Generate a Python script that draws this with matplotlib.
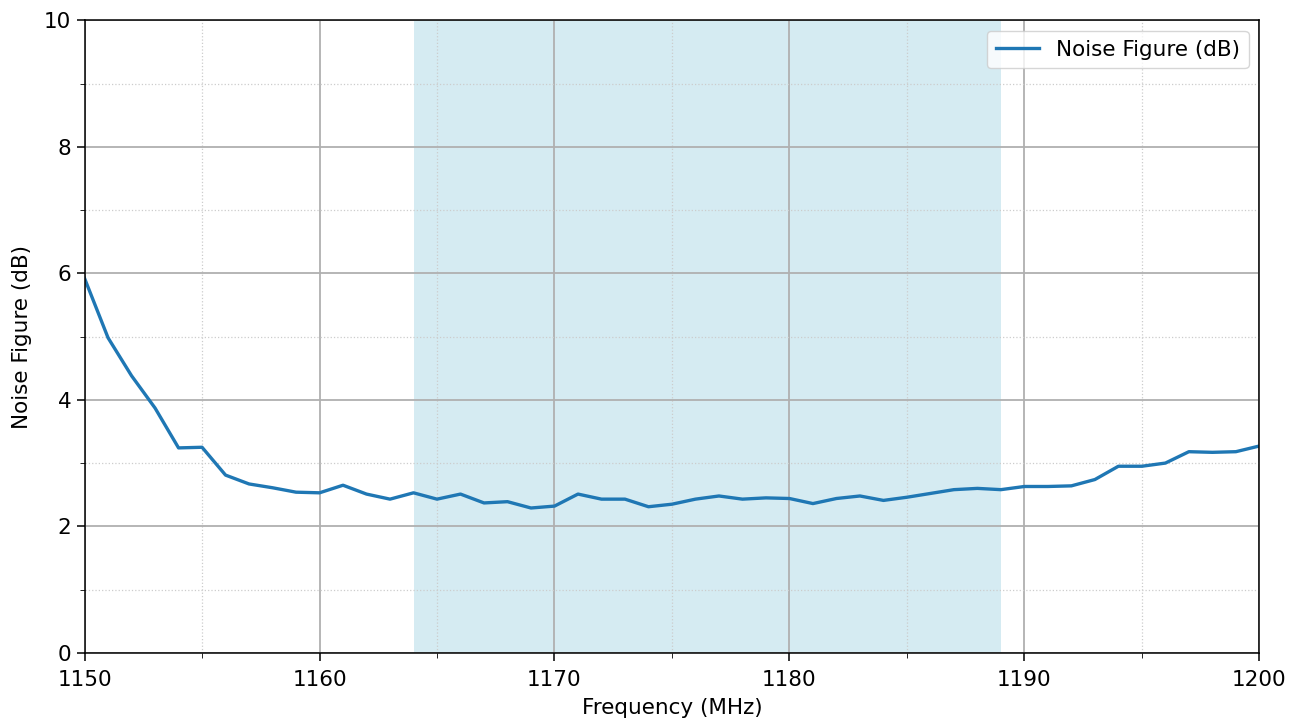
import numpy as np
import matplotlib
matplotlib.use('Agg')
import matplotlib.pyplot as plt
from matplotlib.ticker import MultipleLocator

# frequency (MHz) and noise figure (dB)
freq = list(range(1150, 1201))
nf = [5.92, 4.98, 4.38, 3.87, 3.24, 3.25, 2.81, 2.67, 2.61, 2.54,
      2.53, 2.65, 2.51, 2.43, 2.53, 2.43, 2.51, 2.37, 2.39, 2.29,
      2.32, 2.51, 2.43, 2.43, 2.31, 2.35, 2.43, 2.48, 2.43, 2.45,
      2.44, 2.36, 2.44, 2.48, 2.41, 2.46, 2.52, 2.58, 2.60, 2.58,
      2.63, 2.63, 2.64, 2.74, 2.95, 2.95, 3.00, 3.18, 3.17, 3.18,
      3.27]
band = (1164, 1189)

fig, ax = plt.subplots(figsize=(13.01, 7.23), dpi=100)

ax.axvspan(band[0], band[1], color='lightblue', alpha=0.5, lw=0)
ax.plot(freq, nf, color='#1f77b4', lw=2.4, label='Noise Figure (dB)')

ax.set_xlim(1150, 1200)
ax.set_ylim(0, 10)
ax.xaxis.set_major_locator(MultipleLocator(10))
ax.xaxis.set_minor_locator(MultipleLocator(5))
ax.yaxis.set_major_locator(MultipleLocator(2))
ax.yaxis.set_minor_locator(MultipleLocator(1))
ax.grid(which='major', color='#b0b0b0', lw=1.3)
ax.grid(which='minor', color='#cccccc', ls=':', lw=0.9)
ax.tick_params(labelsize=15.5, length=6, width=1.1)
ax.tick_params(axis='x', pad=6)
ax.tick_params(which='minor', length=3.5)
for s in ax.spines.values():
    s.set_linewidth(1.1)

ax.set_xlabel('Frequency (MHz)', fontsize=15.5, labelpad=6)
ax.set_ylabel('Noise Figure (dB)', fontsize=15.5, labelpad=9)
ax.legend(loc='upper right', fontsize=15.5)

fig.subplots_adjust(left=0.065, right=0.968, top=0.972, bottom=0.097)
fig.savefig('out.png')
